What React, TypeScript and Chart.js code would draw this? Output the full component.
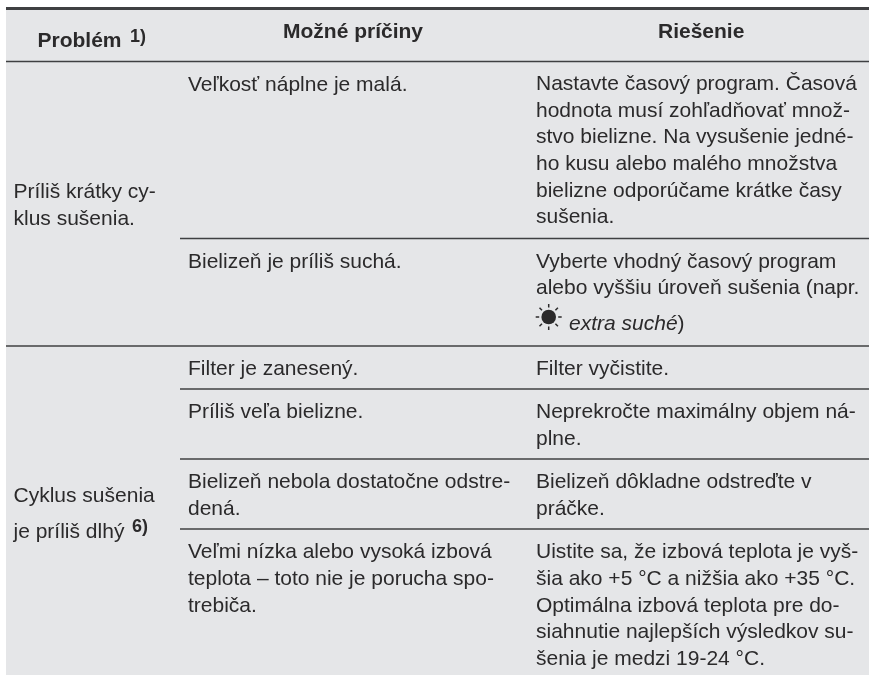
import React, { useEffect, useRef } from "react";
import { Chart, registerables } from "chart.js";

Chart.register(...registerables);

const WIDTH = 869;
const HEIGHT = 675;
const FONT = '"Liberation Sans", Arial, sans-serif';
const TEXT_COLOR = "#2b2a2b";
const RULE_COLOR = "#3f4042";
const BAND_COLOR = "#e5e6e8";

// Column text starts
const columnStarts = [13.5, 188, 536];
// Horizontal rules
const fullRules = [8.5, 61.5, 346];
const partialRules = [238.5, 389, 459, 529];
const ruleThickness = [3, 1.6, 1.6];

const headers = [
  { text: "Problém", x: 37.5, y: 47 },
  { text: "Možné príčiny", x: 283, y: 37.5 },
  { text: "Riešenie", x: 658, y: 37.5 },
];

type Cell = { col: number; y: number; lines: string[] };

const problemCells: Cell[] = [
  { col: 0, y: 198.3, lines: ["Príliš krátky cy-", "klus sušenia."] },
];
const causeCells: Cell[] = [
  { col: 1, y: 90.6, lines: ["Veľkosť náplne je malá."] },
  { col: 1, y: 267.6, lines: ["Bielizeň je príliš suchá."] },
  { col: 1, y: 374.9, lines: ["Filter je zanesený."] },
  { col: 1, y: 418.3, lines: ["Príliš veľa bielizne."] },
  { col: 1, y: 488.3, lines: ["Bielizeň nebola dostatočne odstre-", "dená."] },
  { col: 1, y: 558.3, lines: ["Veľmi nízka alebo vysoká izbová", "teplota – toto nie je porucha spo-", "trebiča."] },
];
const solutionCells: Cell[] = [
  {
    col: 2,
    y: 90.1,
    lines: [
      "Nastavte časový program. Časová",
      "hodnota musí zohľadňovať množ-",
      "stvo bielizne. Na vysušenie jedné-",
      "ho kusu alebo malého množstva",
      "bielizne odporúčame krátke časy",
      "sušenia.",
    ],
  },
  { col: 2, y: 267.6, lines: ["Vyberte vhodný časový program", "alebo vyššiu úroveň sušenia (napr."] },
  { col: 2, y: 374.9, lines: ["Filter vyčistite."] },
  { col: 2, y: 418.3, lines: ["Neprekročte maximálny objem ná-", "plne."] },
  { col: 2, y: 488.3, lines: ["Bielizeň dôkladne odstreďte v", "práčke."] },
  {
    col: 2,
    y: 558.3,
    lines: [
      "Uistite sa, že izbová teplota je vyš-",
      "šia ako +5 °C a nižšia ako +35 °C.",
      "Optimálna izbová teplota pre do-",
      "siahnutie najlepších výsledkov su-",
      "šenia je medzi 19-24 °C.",
    ],
  },
];
const LINE_STEP = 26.6;
const BODY_SIZE = 21;
const SUP_SIZE = 18;

const tablePlugin = {
  id: "tableText",
  beforeDatasetsDraw(chart: any) {
    const { ctx, scales } = chart;
    const X = (v: number) => scales.x.getPixelForValue(v);
    const Y = (v: number) => scales.y.getPixelForValue(v);
    ctx.save();
    ctx.fillStyle = BAND_COLOR;
    ctx.fillRect(X(6), Y(8), X(WIDTH) - X(6), Y(HEIGHT) - Y(8));
    ctx.restore();
  },
  afterDatasetsDraw(chart: any) {
    const { ctx, scales } = chart;
    const X = (v: number) => scales.x.getPixelForValue(v);
    const Y = (v: number) => scales.y.getPixelForValue(v);
    ctx.save();
    ctx.fillStyle = TEXT_COLOR;
    ctx.textBaseline = "alphabetic";
    ctx.textAlign = "left";

    ctx.font = `bold ${BODY_SIZE}px ${FONT}`;
    headers.forEach((h) => ctx.fillText(h.text, X(h.x), Y(h.y)));
    ctx.font = `bold ${SUP_SIZE}px ${FONT}`;
    ctx.fillText("1)", X(130), Y(42));

    ctx.font = `${BODY_SIZE}px ${FONT}`;
    [...problemCells, ...causeCells, ...solutionCells].forEach((c) => {
      c.lines.forEach((line, i) => ctx.fillText(line, X(columnStarts[c.col]), Y(c.y + i * LINE_STEP)));
    });
    ctx.fillText("Cyklus sušenia", X(13.5), Y(501.6));
    ctx.fillText("je príliš dlhý", X(13.5), Y(538.3));
    ctx.font = `bold ${SUP_SIZE}px ${FONT}`;
    ctx.fillText("6)", X(132), Y(532));

    ctx.font = `italic ${BODY_SIZE}px ${FONT}`;
    ctx.fillText("extra suché", X(569), Y(330));
    const w = ctx.measureText("extra suché").width;
    ctx.font = `${BODY_SIZE}px ${FONT}`;
    ctx.fillText(")", X(569) + w, Y(330));

    // sun symbol
    const cx = X(548.7);
    const cy = Y(317);
    ctx.beginPath();
    ctx.arc(cx, cy, 7.3, 0, Math.PI * 2);
    ctx.fill();
    ctx.strokeStyle = TEXT_COLOR;
    ctx.lineWidth = 1.5;
    for (let i = 0; i < 8; i++) {
      const a = (i * Math.PI) / 4;
      ctx.beginPath();
      ctx.moveTo(cx + Math.cos(a) * 9.5, cy + Math.sin(a) * 9.5);
      ctx.lineTo(cx + Math.cos(a) * 13, cy + Math.sin(a) * 13);
      ctx.stroke();
    }
    ctx.restore();
  },
};

export default function App() {
  const ref = useRef<HTMLCanvasElement>(null);
  useEffect(() => {
    document.body.style.margin = "0";
    const ruleSets = [
      ...fullRules.map((y, i) => ({ y, x0: 6, thick: ruleThickness[i] })),
      ...partialRules.map((y) => ({ y, x0: 180, thick: 1.6 })),
    ];
    const chart = new Chart(ref.current!, {
      type: "line",
      data: {
        datasets: ruleSets.map((r) => ({
          data: [
            { x: r.x0, y: r.y },
            { x: WIDTH, y: r.y },
          ],
          borderColor: RULE_COLOR,
          borderWidth: r.thick,
          pointRadius: 0,
          fill: false,
        })),
      },
      options: {
        animation: false,
        responsive: false,
        layout: { padding: 0 },
        plugins: { legend: { display: false }, tooltip: { enabled: false }, title: { display: false } },
        scales: {
          x: { type: "linear", min: 0, max: WIDTH, display: false },
          y: { type: "linear", min: 0, max: HEIGHT, reverse: true, display: false },
        },
      },
      plugins: [tablePlugin],
    } as any);
    return () => chart.destroy();
  }, []);
  return <canvas ref={ref} width={WIDTH} height={HEIGHT} style={{ display: "block" }} />;
}
